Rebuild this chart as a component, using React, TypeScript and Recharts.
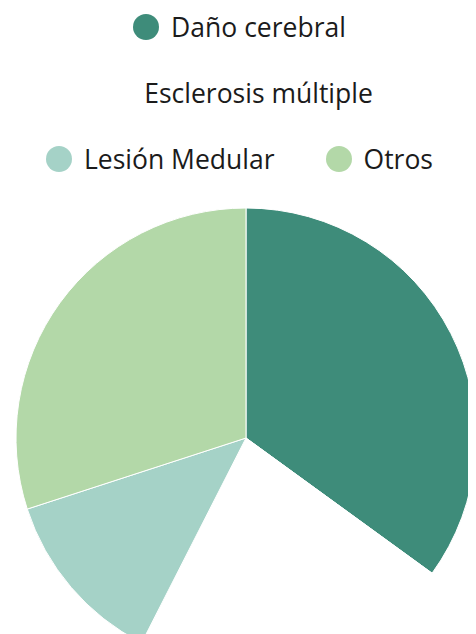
import { PieChart, Pie, Cell, Legend } from 'recharts';

const categories = ['Daño cerebral', 'Esclerosis múltiple', 'Lesión Medular', 'Otros'];
const values = [28, 18, 10, 24];
const colors = ['#3e8c7a', '#ffffff', '#a5d2c7', '#b3d8a8'];

const data = categories.map((name, i) => ({ name, value: values[i] }));

const LegendContent = () => (
  <div
    style={{
      display: 'flex',
      flexWrap: 'wrap',
      justifyContent: 'center',
      columnGap: 46,
      rowGap: 28,
      width: 476,
      boxSizing: 'border-box',
      paddingLeft: 8,
      fontFamily: '"Open Sans", sans-serif',
      fontSize: 26.5,
      color: '#1b1b1b',
    }}
  >
    {categories.map((name, i) => (
      <div key={name} style={{ display: 'flex', alignItems: 'center', height: 38, paddingRight: 5 }}>
        <svg width={26} height={26} style={{ marginRight: 12 }}>
          <circle cx={13} cy={13} r={13} fill={colors[i]} />
        </svg>
        <span>{name}</span>
      </div>
    ))}
  </div>
);

export default function App() {
  return (
    <div style={{ width: 476, height: 626, marginLeft: -8 }}>
      <style>{'html, body { overflow: hidden; }'}</style>
      <PieChart width={476} height={626} margin={{ top: 0, right: 0, bottom: 0, left: 0 }}>
        <Legend verticalAlign="top" align="center" content={<LegendContent />} />
        <Pie
          data={data}
          dataKey="value"
          nameKey="name"
          cx={246}
          cy={260}
          outerRadius={230}
          startAngle={90}
          endAngle={-270}
          stroke="#fff"
          strokeWidth={1}
          isAnimationActive={false}
        >
          {data.map((d, i) => (
            <Cell key={d.name} fill={colors[i]} />
          ))}
        </Pie>
      </PieChart>
    </div>
  );
}
